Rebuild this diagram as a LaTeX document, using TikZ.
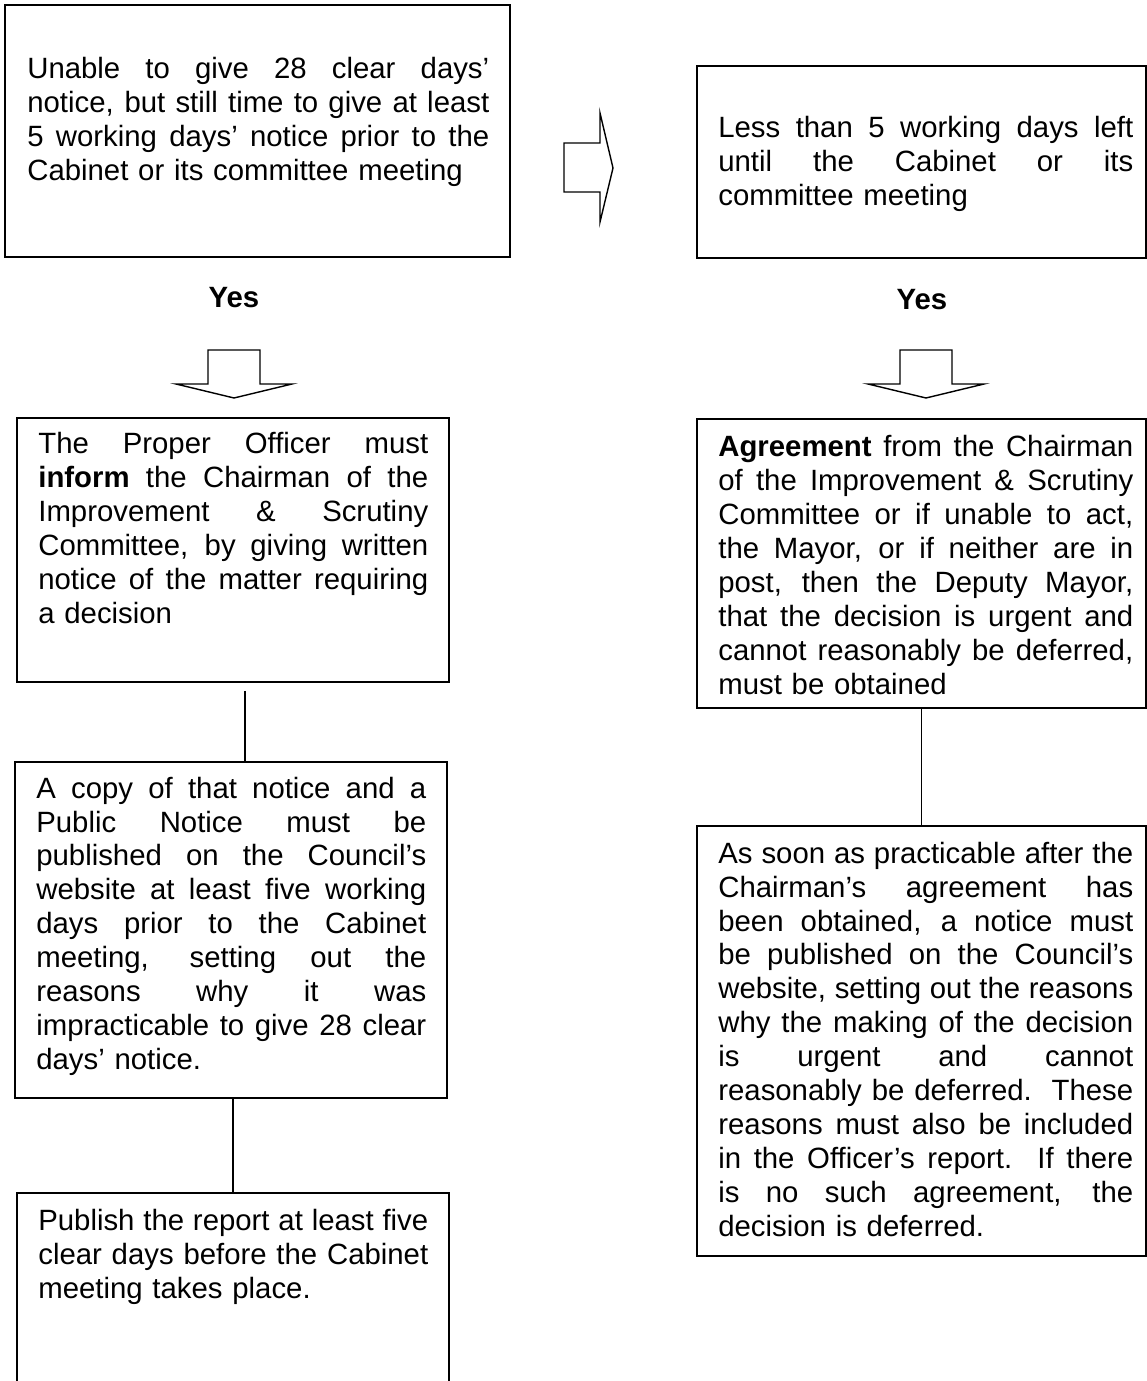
\documentclass[tikz,border=0pt]{standalone}
\usepackage{fontspec}
\setmainfont{Liberation Sans}
\newcommand{\jline}[1]{{\spaceskip=0pt\xspaceskip=0pt\makebox[\linewidth][s]{#1}}}

\begin{document}
\begin{tikzpicture}[x=0.02cm,y=-0.02cm,
  box/.style={draw,line width=0.9pt,inner sep=0pt},
  txt/.style={anchor=base west,inner sep=0pt,align=left,font=\fontsize{16.7}{19.35}\selectfont},
  yes/.style={anchor=base,inner sep=0pt,font=\fontsize{16.7}{19.35}\selectfont\bfseries},
  blockarrow/.style={draw,line width=0.8pt,line join=miter},
  link/.style={draw,line width=0.8pt},
  downblock/.pic={\draw[blockarrow] (-26,0) -- (26,0) -- (26,34) -- (58,34) -- (0,48) -- (-58,34) -- (-26,34) -- cycle;}]
  \useasboundingbox (0,0) rectangle (1146,1381);

  % boxes
  \node[box,minimum width=10.10cm,minimum height=5.04cm] (unable)  at (257.5,131)  {};
  \node[box,minimum width=8.98cm,minimum height=3.84cm]  (less)    at (921.5,162)  {};
  \node[box,minimum width=8.64cm,minimum height=5.28cm]  (inform)  at (233,550)    {};
  \node[box,minimum width=8.64cm,minimum height=6.72cm]  (copy)    at (231,930)    {};
  \node[box,minimum width=8.64cm,minimum height=4.54cm]  (publish) at (233,1306.5) {};
  \node[box,minimum width=8.98cm,minimum height=5.78cm]  (agree)   at (921.5,563.5) {};
  \node[box,minimum width=8.98cm,minimum height=8.60cm]  (soon)    at (921.5,1041) {};

  % texts
  \node[txt,text width=9.24cm] (unabletxt) at (27,79) {%
    \jline{Unable to give 28 clear days’}\\
    \jline{notice, but still time to give at least}\\
    \jline{5 working days’ notice prior to the}\\
    Cabinet or its committee meeting};
  \node[txt,text width=8.30cm] (lesstxt) at (718,138) {%
    \jline{Less than 5 working days left}\\
    \jline{until the Cabinet or its}\\
    committee meeting};
  \node[txt,text width=7.80cm] (informtxt) at (38,454) {%
    \jline{The Proper Officer must}\\
    \jline{\textbf{inform} the Chairman of the}\\
    \jline{Improvement \& Scrutiny}\\
    \jline{Committee, by giving written}\\
    \jline{notice of the matter requiring}\\
    a decision};
  \node[txt,text width=7.80cm] (copytxt) at (36,798) {%
    \jline{A copy of that notice and a}\\
    \jline{Public Notice must be}\\
    \jline{published on the Council’s}\\
    \jline{website at least five working}\\
    \jline{days prior to the Cabinet}\\
    \jline{meeting, setting out the}\\
    \jline{reasons why it was}\\
    \jline{impracticable to give 28 clear}\\
    days’ notice.};
  \node[txt,text width=7.80cm] (publishtxt) at (38,1230) {%
    \jline{Publish the report at least five}\\
    \jline{clear days before the Cabinet}\\
    meeting takes place.};
  \node[txt,text width=8.30cm] (agreetxt) at (718,457) {%
    \jline{\textbf{Agreement} from the Chairman}\\
    \jline{of the Improvement \& Scrutiny}\\
    \jline{Committee or if unable to act,}\\
    \jline{the Mayor, or if neither are in}\\
    \jline{post, then the Deputy Mayor,}\\
    \jline{that the decision is urgent and}\\
    \jline{cannot reasonably be deferred,}\\
    must be obtained};
  \node[txt,text width=8.30cm] (soontxt) at (718,863) {%
    \jline{As soon as practicable after the}\\
    \jline{Chairman’s agreement has}\\
    \jline{been obtained, a notice must}\\
    \jline{be published on the Council’s}\\
    \jline{website, setting out the reasons}\\
    \jline{why the making of the decision}\\
    \jline{is urgent and cannot}\\
    \jline{reasonably be deferred.\ \ These}\\
    \jline{reasons must also be included}\\
    \jline{in the Officer’s report.\ \ If there}\\
    \jline{is no such agreement, the}\\
    decision is deferred.};

  % yes labels
  \node[yes] (yesleft)  at (234,308) {Yes};
  \node[yes] (yesright) at (922,310) {Yes};

  % block arrows
  \draw[blockarrow] (564,143) -- (600,143) -- (600,113) -- (613,168) -- (600,222) -- (600,192) -- (564,192) -- cycle;
  \pic at (234,350) {downblock};
  \pic at (926,350) {downblock};

  % links
  \draw[link] ([xshift=0.24cm,yshift=-0.16cm]inform.south) -- ([xshift=0.24cm]inform.south |- copy.north);
  \draw[link] ([xshift=0.04cm]copy.south) -- ([xshift=0.04cm]copy.south |- publish.north);
  \draw[link] (agree.south) -- (soon.north);
\end{tikzpicture}
\end{document}
